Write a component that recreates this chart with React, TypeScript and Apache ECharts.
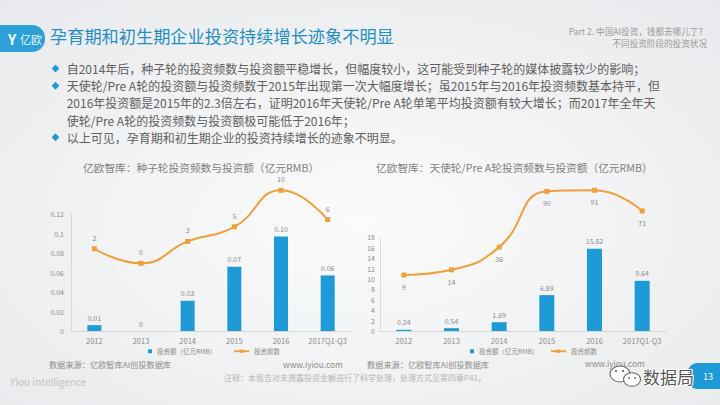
import React, { useEffect, useRef } from "react";
import * as echarts from "echarts";

const categories = ["2012", "2013", "2014", "2015", "2016", "2017Q1-Q3"];
const seedAmount = [0.006, 0, 0.031, 0.066, 0.097, 0.057];
const seedCount = [2, 0, 3, 5, 10, 6];
const angelAmount = [0.24, 0.54, 1.69, 6.89, 15.82, 9.64];
const angelCount = [9, 14, 36, 90, 91, 71];

const amountName = "投资额（亿元RMB）";
const countName = "投资频数";

const bulletLines = [
  "自2014年后，种子轮的投资频数与投资额平稳增长，但幅度较小，这可能受到种子轮的媒体披露较少的影响；",
  "天使轮/Pre A轮的投资额与投资频数于2015年出现第一次大幅度增长；虽2015年与2016年投资频数基本持平，但",
  "2016年投资额是2015年的2.3倍左右，证明2016年天使轮/Pre A轮单笔平均投资额有较大增长；而2017年全年天",
  "使轮/Pre A轮的投资频数与投资额极可能低于2016年；",
  "以上可见，孕育期和初生期企业的投资持续增长的迹象不明显。",
];
const bulletMarks = [true, true, false, false, true];

const FONT = "'Noto Sans CJK SC', 'Noto Sans', sans-serif";
const BLUE = "#1e9bd7";
const ORANGE = "#f0a03a";
const GRAY = "#8a8a8a";

function txt(text: string, x: number, y: number, size: number, fill: string, align = "left", extra: any = {}) {
  return {
    type: "text",
    x,
    y,
    z: 50,
    silent: true,
    style: {
      text,
      fill,
      fontSize: size,
      fontFamily: FONT,
      align,
      verticalAlign: "middle",
      ...extra,
    },
  };
}

export default function App() {
  const ref = useRef<HTMLDivElement>(null);

  useEffect(() => {
    document.body.style.margin = "0";
    if (!ref.current) return;
    const chart = echarts.init(ref.current, undefined, { renderer: "svg" });

    const lineY0 = 68.5;
    const lineStep = 17.2;

    const graphics: any[] = [
      {
        type: "rect",
        z: -100,
        silent: true,
        shape: { x: 0, y: 0, width: 720, height: 405 },
        style: {
          fill: new echarts.graphic.RadialGradient(0.5, 0.55, 0.75, [
            { offset: 0, color: "#fbfbfb" },
            { offset: 1, color: "#e7e9ec" },
          ]),
        },
      },
      // top-left badge
      {
        type: "rect",
        z: 40,
        silent: true,
        shape: { x: -14, y: 25, width: 59, height: 27, r: 13 },
        style: { fill: "#2d9fd9" },
      },
      txt("Y", 12, 38.5, 14, "#ffffff", "center", { fontWeight: "bold" }),
      txt("亿欧", 20, 38.5, 11, "rgba(255,255,255,0.92)"),
      txt("孕育期和初生期企业投资持续增长迹象不明显", 50, 35.5, 17.2, "#1f8ec7"),
      txt("Part 2. 中国AI投资，钱都去哪儿了？", 707, 30.5, 8.6, "#9a9a9a", "right"),
      txt("不同投资阶段的投资状况", 707, 43.2, 8.6, "#9a9a9a", "right"),
      // chart titles
      txt("亿欧智库：种子轮投资频数与投资额（亿元RMB）", 83, 167, 10.7, "#808080"),
      txt("亿欧智库：天使轮/Pre A轮投资频数与投资额（亿元RMB）", 376, 167, 10.7, "#808080"),
      // footer
      txt("数据来源：亿欧智库AI创投数据库", 49, 364, 8.2, "#8c8c8c"),
      txt("www.iyiou.com", 283, 364, 8.3, "#8c8c8c"),
      txt("数据来源：亿欧智库AI创投数据库", 367, 364, 8.2, "#8c8c8c"),
      txt("www.iyiou.com", 585, 363, 8.3, "#8c8c8c"),
      txt("Yiou intelligence", 10, 381, 10, "#c2c2c2"),
      txt("注释：本报告对未透露投资金额进行了科学处理，处理方式见第四章P41。", 224, 377.5, 8, "#b5b5b5"),
      // watermark
      {
        type: "ellipse",
        z: 60,
        silent: true,
        shape: { cx: 620, cy: 374, rx: 10, ry: 8 },
        style: { fill: "rgba(255,255,255,0.95)", stroke: "#666", lineWidth: 1.1 },
      },
      {
        type: "ellipse",
        z: 61,
        silent: true,
        shape: { cx: 632, cy: 379.5, rx: 8.5, ry: 6.8 },
        style: { fill: "rgba(255,255,255,0.95)", stroke: "#666", lineWidth: 1.1 },
      },
      { type: "circle", z: 62, silent: true, shape: { cx: 616, cy: 371, r: 1.1 }, style: { fill: "#666" } },
      { type: "circle", z: 62, silent: true, shape: { cx: 623, cy: 371, r: 1.1 }, style: { fill: "#666" } },
      { type: "circle", z: 62, silent: true, shape: { cx: 629, cy: 378, r: 0.9 }, style: { fill: "#666" } },
      { type: "circle", z: 62, silent: true, shape: { cx: 635, cy: 378, r: 0.9 }, style: { fill: "#666" } },
      txt("数据局", 643, 376, 17, "#555555", "left", { stroke: "#ffffff", lineWidth: 2 }),
      // page badge
      {
        type: "rect",
        z: 40,
        silent: true,
        shape: { x: 688, y: 363, width: 45, height: 26, r: 9 },
        style: { fill: BLUE },
      },
      txt("13", 703, 376, 9, "#ffffff"),
      // bullet paragraph as one multi-line text
      {
        type: "text",
        x: 66.7,
        y: lineY0 - lineStep / 2,
        z: 50,
        silent: true,
        style: {
          text: bulletLines.join("\n"),
          fill: "#606060",
          fontSize: 12,
          fontFamily: FONT,
          lineHeight: lineStep,
          align: "left",
          verticalAlign: "top",
        },
      },
    ];

    bulletMarks.forEach((m, i) => {
      if (!m) return;
      const y = lineY0 + i * lineStep;
      graphics.push({
        type: "polygon",
        z: 50,
        silent: true,
        shape: {
          points: [
            [55.5, y - 4],
            [59.3, y],
            [55.5, y + 4],
            [51.7, y],
          ],
        },
        style: { fill: BLUE },
      });
    });

    const axisLabelStyle = { fontSize: 7, color: GRAY, fontFamily: FONT };
    const xAxisBase = {
      type: "category",
      data: categories,
      axisTick: { show: false },
      axisLine: { lineStyle: { color: "#d6d6d6", width: 1 } },
      axisLabel: { ...axisLabelStyle, fontSize: 7.5, margin: 6, interval: 0 },
    };
    const yAxisBase = {
      type: "value",
      axisLine: { show: true, lineStyle: { color: "#d9d9d9" } },
      axisTick: { show: false },
      splitLine: { show: false },
      axisLabel: { ...axisLabelStyle },
    };

    const barLabel = {
      show: true,
      position: "top",
      distance: 4,
      fontSize: 7,
      color: GRAY,
      fontFamily: FONT,
      formatter: (p: any) => (p.value === 0 ? "0" : Number(p.value).toFixed(2)),
    };
    const lineBase = {
      type: "line",
      name: countName,
      smooth: true,
      symbol: "rect",
      symbolSize: 5,
      clip: false,
      itemStyle: { color: ORANGE },
      lineStyle: { color: ORANGE, width: 2 },
    };
    const legendText = { fontSize: 6.5, color: GRAY, fontFamily: FONT };
    const legendBase = { top: 348, padding: 0, itemHeight: 4, selectedMode: false, textStyle: legendText };

    chart.setOption({
      animation: false,
      graphic: { elements: graphics },
      grid: [
        { left: 71, right: 369, top: 214, bottom: 74 },
        { left: 380, right: 54, top: 237.3, bottom: 74 },
      ],
      xAxis: [
        { ...xAxisBase, gridIndex: 0 },
        { ...xAxisBase, gridIndex: 1 },
      ],
      yAxis: [
        { ...yAxisBase, gridIndex: 0, min: 0, max: 0.12, interval: 0.02, axisLabel: { ...axisLabelStyle, margin: 7 } },
        { type: "value", gridIndex: 0, min: -9.27, max: 6.76, show: false, splitLine: { show: false } },
        { ...yAxisBase, gridIndex: 1, min: 0, max: 18, interval: 2, axisLabel: { ...axisLabelStyle, margin: 5 } },
        { type: "value", gridIndex: 1, min: -45.2, max: 45.5, show: false, splitLine: { show: false } },
      ],
      legend: [
        { ...legendBase, data: [{ name: amountName, icon: "rect" }], left: 148, itemWidth: 4 },
        { ...legendBase, data: [{ name: countName }], left: 233, itemWidth: 15 },
        { ...legendBase, data: [{ name: amountName, icon: "rect" }], left: 470, itemWidth: 4 },
        { ...legendBase, data: [{ name: countName }], left: 550, itemWidth: 15 },
      ],
      series: [
        {
          type: "bar",
          name: amountName,
          xAxisIndex: 0,
          yAxisIndex: 0,
          data: seedAmount,
          barWidth: 14,
          itemStyle: { color: BLUE },
          label: barLabel,
        },
        {
          ...lineBase,
          xAxisIndex: 0,
          yAxisIndex: 1,
          data: seedCount,
          label: { show: true, position: "top", distance: 5, fontSize: 7, color: GRAY, fontFamily: FONT },
        },
        {
          type: "bar",
          name: amountName,
          xAxisIndex: 1,
          yAxisIndex: 2,
          data: angelAmount,
          barWidth: 15,
          itemStyle: { color: BLUE },
          label: barLabel,
        },
        {
          ...lineBase,
          xAxisIndex: 1,
          yAxisIndex: 3,
          data: angelCount,
          label: { show: true, position: "bottom", distance: 6, fontSize: 7, color: GRAY, fontFamily: FONT },
        },
      ],
    });

    return () => chart.dispose();
  }, []);

  return <div ref={ref} style={{ width: 720, height: 405 }} />;
}
